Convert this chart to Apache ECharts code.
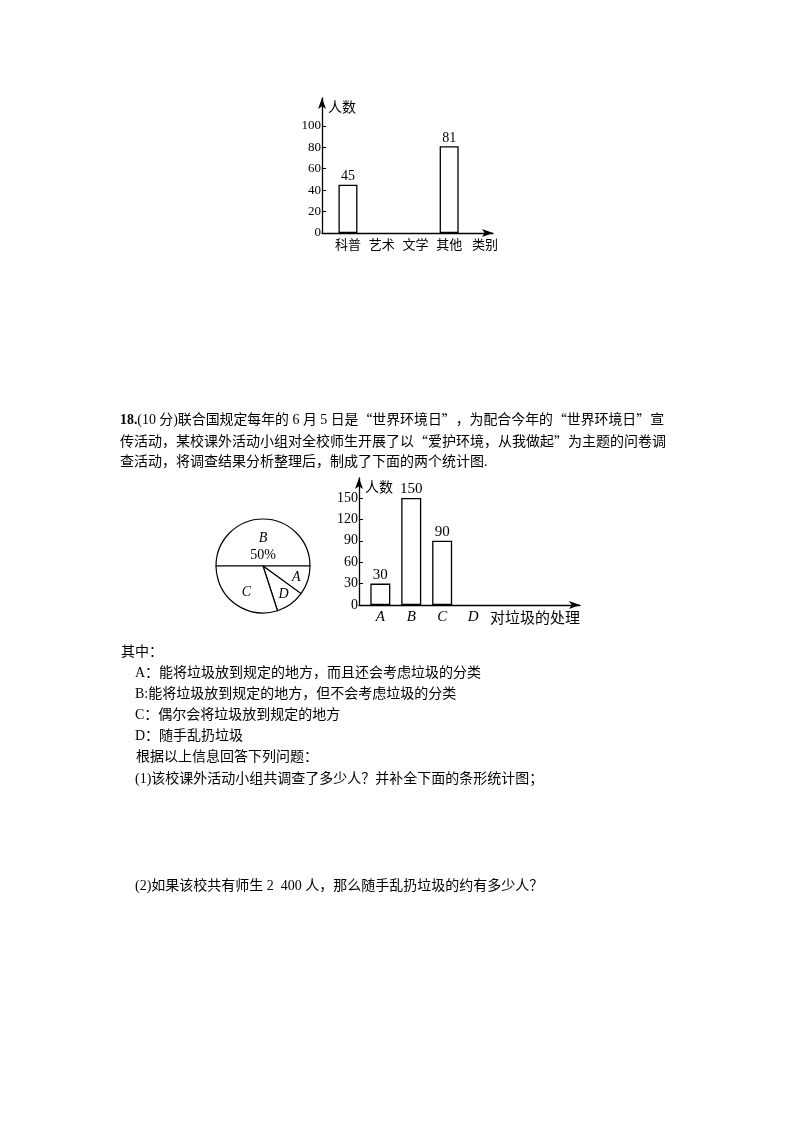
<!DOCTYPE html>
<html>
<head>
<meta charset="utf-8">
<script src="https://cdn.jsdelivr.net/npm/echarts@6/dist/echarts.min.js"></script>
<style>
  html, body { margin: 0; padding: 0; background: #fff; }
  #page { width: 800px; height: 1132px; }
</style>
</head>
<body>
<div id="page"></div>
<script>
// chart 1: 课外读物类别
var bookCats = ['科普', '艺术', '文学', '其他'];
var bookVals = [45, null, null, 81];
var bookTicks = [0, 20, 40, 60, 80, 100];

// chart 2: 对垃圾的处理
var wasteCats = ['A', 'B', 'C', 'D'];
var wasteVals = [30, 150, 90, null];
var wasteTicks = [0, 30, 60, 90, 120, 150];

// pie (B 50%)
var pieOrder = ['B', 'A', 'D', 'C'];
var pieVals = { A: 30, B: 150, C: 90, D: 30 };

var serif = '"Liberation Serif", "Noto Sans CJK SC", serif';
var cjk = '"Noto Sans CJK SC", sans-serif';

var textLines = [
    { x: 120, y: 422, s: 13.9, t: '{b|18.}(10 分)联合国规定每年的 6 月 5 日是“世界环境日”，为配合今年的“世界环境日”宣' },
    { x: 120, y: 444, s: 14, t: '传活动，某校课外活动小组对全校师生开展了以“爱护环境，从我做起”为主题的问卷调' },
    { x: 120, y: 464, s: 14, t: '查活动，将调查结果分析整理后，制成了下面的两个统计图.' },
    { x: 121, y: 654, s: 14, t: '其中：' },
    { x: 135, y: 675, s: 14, t: 'A：能将垃圾放到规定的地方，而且还会考虑垃圾的分类' },
    { x: 135, y: 696, s: 14, t: 'B:能将垃圾放到规定的地方，但不会考虑垃圾的分类' },
    { x: 135, y: 717, s: 14, t: 'C：偶尔会将垃圾放到规定的地方' },
    { x: 135, y: 738, s: 14, t: 'D：随手乱扔垃圾' },
    { x: 136, y: 759, s: 14, t: '根据以上信息回答下列问题：' },
    { x: 135, y: 781, s: 14, t: '(1)该校课外活动小组共调查了多少人？并补全下面的条形统计图；' },
    { x: 135, y: 888, s: 14, t: '(2)如果该校共有师生 2  400 人，那么随手乱扔垃圾的约有多少人？' }
];

function toPairs(vals) {
    var out = [];
    for (var i = 0; i < vals.length; i++) {
        if (vals[i] != null) {
            out.push([i, vals[i]]);
        }
    }
    return out;
}

function arrowLine() {
    return {
        show: true,
        onZero: false,
        symbol: ['none', 'arrow'],
        symbolSize: [6, 11],
        lineStyle: { color: '#000', width: 1.3 }
    };
}

function xAxisOf(idx, cats, min, max, fontSize, italic, name, nameSize, nameGap) {
    return {
        type: 'value',
        gridIndex: idx,
        min: min,
        max: max,
        axisLine: arrowLine(),
        axisTick: { show: false },
        splitLine: { show: false },
        axisLabel: {
            customValues: [0, 1, 2, 3],
            formatter: function (v) { return cats[v]; },
            color: '#000',
            fontFamily: italic ? serif : cjk,
            fontStyle: italic ? 'italic' : 'normal',
            fontSize: fontSize,
            margin: 5
        },
        name: name,
        nameLocation: 'end',
        nameGap: nameGap,
        nameTextStyle: {
            color: '#000', fontFamily: cjk, fontSize: nameSize,
            align: 'right', verticalAlign: 'top', padding: [5, 0, 0, 0]
        }
    };
}

function yAxisOf(idx, max, ticks, fontSize) {
    return {
        type: 'value',
        gridIndex: idx,
        min: 0,
        max: max,
        axisLine: arrowLine(),
        axisTick: { show: true, inside: true, length: 4, customValues: ticks, lineStyle: { color: '#000' } },
        splitLine: { show: false },
        axisLabel: {
            customValues: ticks,
            color: '#000',
            fontFamily: serif,
            fontSize: fontSize,
            margin: 1
        },
        name: '人数',
        nameLocation: 'end',
        nameGap: -9,
        nameTextStyle: {
            color: '#000', fontFamily: cjk, fontSize: 14,
            align: 'left', verticalAlign: 'middle', padding: [0, 0, 0, 6]
        }
    };
}

function barSeries(idx, vals, width, labelSize) {
    return {
        type: 'bar',
        xAxisIndex: idx,
        yAxisIndex: idx,
        data: toPairs(vals),
        barWidth: width,
        itemStyle: { color: '#fff', borderColor: '#000', borderWidth: 1.3 },
        label: {
            show: true, position: 'top', distance: 1,
            color: '#000', fontFamily: serif, fontSize: labelSize
        },
        silent: true
    };
}

var chart = echarts.init(document.getElementById('page'), null, { renderer: 'canvas' });

var pieData = pieOrder.map(function (k) {
    var item = { name: k, value: pieVals[k] };
    if (k === 'B') {
        item.label = { padding: [32, 0, 0, 0] };
    } else if (k === 'C') {
        item.label = { padding: [0, 0, 4, 8] };
    }
    return item;
});

var graphics = textLines.map(function (l) {
    var txt = l.t.replace(/“/g, '{q|“}').replace(/”/g, '{q|”}');
    return {
        type: 'text',
        left: l.x,
        top: l.y - 9,
        style: {
            text: txt,
            fill: '#000',
            font: l.s + 'px ' + serif,
            rich: {
                b: { fontWeight: 'bold', fontSize: l.s, fontFamily: serif, fill: '#000' },
                q: { fontSize: l.s, fontFamily: cjk, fill: '#000' }
            }
        }
    };
});

chart.setOption({
    animation: false,
    backgroundColor: '#fff',
    grid: [
        { left: 322, top: 98, width: 171, height: 135 },
        { left: 359, top: 478, width: 221, height: 127 }
    ],
    xAxis: [
        xAxisOf(0, bookCats, -0.77, 4.3, 13, false, '类别', 13, 5),
        xAxisOf(1, wasteCats, -0.69, 6.46, 15, true, '对垃圾的处理', 15, 0)
    ],
    yAxis: [
        yAxisOf(0, 126, bookTicks, 13),
        yAxisOf(1, 178, wasteTicks, 14)
    ],
    series: [
        barSeries(0, bookVals, 19, 14),
        barSeries(1, wasteVals, 20, 15),
        {
            type: 'pie',
            center: [263, 566],
            radius: [0, 47],
            startAngle: 180,
            clockwise: true,
            silent: true,
            data: pieData,
            itemStyle: { color: '#fff', borderColor: '#000', borderWidth: 1.2 },
            label: { show: false },
            labelLine: { show: false }
        },
        {
            // same slices, wider invisible ring only to place the letters further out
            type: 'pie',
            center: [263, 566],
            radius: [0, 64],
            startAngle: 180,
            clockwise: true,
            silent: true,
            z: 3,
            data: pieData,
            itemStyle: { color: 'transparent', borderWidth: 0 },
            label: {
                show: true,
                position: 'inside',
                color: '#000',
                formatter: function (p) {
                    if (p.name === 'B') {
                        return '{i|B}\n{n|50%}';
                    }
                    return '{i|' + p.name + '}';
                },
                rich: {
                    i: { fontFamily: serif, fontStyle: 'italic', fontSize: 14, color: '#000', lineHeight: 17 },
                    n: { fontFamily: serif, fontSize: 14, color: '#000', lineHeight: 17 }
                }
            },
            labelLine: { show: false }
        }
    ],
    graphic: graphics
});
</script>
</body>
</html>
